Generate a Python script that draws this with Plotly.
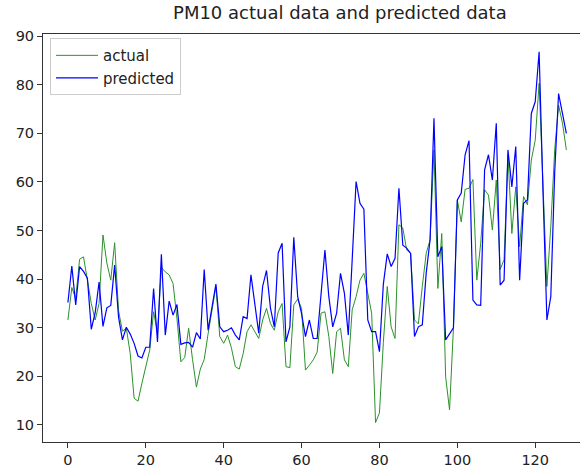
import plotly.graph_objects as go

actual = [31.6, 38.3, 36.0, 44.1, 44.6, 39.8, 35.0, 31.6, 35.0, 49.1,
          43.3, 39.8, 47.5, 33.5, 29.3, 29.9, 24.7, 15.5, 14.9, 18.6,
          22.0, 25.4, 33.3, 29.0, 42.4, 41.5, 40.9, 39.1, 31.9, 23.0,
          23.9, 29.9, 23.5, 17.8, 21.5, 23.5, 28.8, 34.0, 38.5, 28.2,
          26.8, 28.5, 25.8, 22.0, 21.5, 24.7, 29.2, 30.6, 29.2, 27.8,
          31.6, 34.0, 30.9, 29.5, 33.3, 35.0, 22.0, 21.8, 34.7, 35.9,
          34.0, 21.3, 22.3, 23.4, 25.0, 33.0, 33.3, 28.2, 20.6, 29.2,
          29.9, 23.4, 22.0, 33.7, 36.4, 39.8, 41.2, 37.1, 33.0, 10.5,
          12.5, 27.0, 38.5, 30.2, 27.8, 51.2, 50.5, 46.0, 45.3, 31.6,
          30.8, 38.5, 45.3, 48.1, 66.6, 38.1, 49.4, 19.9, 13.1, 30.0,
          56.3, 51.8, 58.5, 58.7, 60.5, 39.8, 47.4, 58.4, 57.3, 50.1,
          60.4, 42.0, 44.0, 65.6, 49.4, 59.0, 46.7, 57.0, 55.3, 64.5,
          68.6, 80.3, 59.4, 38.5, 50.8, 66.6, 75.8, 72.1, 66.6]

predicted = [35.2, 42.7, 34.7, 42.6, 41.6, 40.2, 29.7, 33.1, 39.4, 30.3,
             34.1, 34.6, 42.9, 32.2, 27.5, 30.1, 28.7, 26.8, 24.2, 23.8,
             26.0, 26.0, 38.1, 27.1, 45.1, 28.5, 35.5, 32.6, 34.8, 26.6,
             26.9, 27.0, 26.0, 29.0, 27.7, 42.0, 29.5, 34.0, 39.0, 30.2,
             29.2, 29.5, 30.0, 28.5, 27.5, 32.3, 31.9, 40.9, 34.7, 28.9,
             38.5, 41.8, 34.1, 30.2, 45.4, 47.4, 27.1, 30.2, 48.6, 36.4,
             32.9, 28.2, 31.6, 27.8, 27.8, 37.8, 46.0, 36.4, 30.2, 33.0,
             41.2, 37.1, 28.5, 44.0, 60.1, 55.6, 54.4, 31.6, 29.2, 29.2,
             25.1, 39.0, 45.2, 42.6, 44.3, 58.7, 47.0, 46.4, 45.3, 28.2,
             30.2, 30.6, 41.2, 48.1, 73.1, 44.6, 46.7, 27.5, 28.9, 30.0,
             56.3, 57.7, 65.6, 68.5, 35.7, 34.7, 34.6, 62.5, 65.6, 60.4,
             72.1, 38.8, 39.8, 66.6, 59.0, 67.3, 39.8, 55.6, 56.3, 74.1,
             76.5, 86.8, 58.0, 31.6, 36.4, 62.0, 78.2, 74.1, 70.0]

x = list(range(len(actual)))
x_ticks = [0, 20, 40, 60, 80, 100, 120]
y_ticks = [10, 20, 30, 40, 50, 60, 70, 80, 90]

fig = go.Figure()
fig.add_trace(go.Scatter(x=x, y=actual, mode="lines", name="actual",
                         line=dict(color="#2a922a", width=1)))
fig.add_trace(go.Scatter(x=x, y=predicted, mode="lines", name="predicted",
                         line=dict(color="#0000ff", width=1.2)))

font = dict(family="DejaVu Sans", size=14.5, color="#222222")
fig.update_layout(
    width=580, height=468,
    margin=dict(l=43, r=0, t=34, b=26),
    paper_bgcolor="white", plot_bgcolor="white",
    font=font,
    title=dict(text="PM10 actual data and predicted data", x=0.586, xref="container",
               xanchor="center", y=1 - 13 / 468, yref="container", yanchor="middle",
               font=dict(family="DejaVu Sans", size=18, color="#222222")),
    showlegend=True,
    legend=dict(x=0.013, y=0.99, xanchor="left", yanchor="top",
                bgcolor="rgba(255,255,255,0.85)", bordercolor="#cccccc", borderwidth=1,
                font=dict(family="DejaVu Sans", size=15, color="#222222"),
                itemwidth=42, tracegroupgap=2),
)
fig.update_xaxes(range=[-6.4, 131.5], tickvals=x_ticks, ticks="outside", ticklen=5,
                 tickcolor="#333333", showline=True, linecolor="#333333", linewidth=1,
                 mirror=True, showgrid=False, zeroline=False)
fig.update_yaxes(range=[6.5, 90.45], tickvals=y_ticks, ticks="outside", ticklen=5,
                 tickcolor="#333333", showline=True, linecolor="#333333", linewidth=1,
                 mirror=False, showgrid=False, zeroline=False)

fig.write_html("out.html")
